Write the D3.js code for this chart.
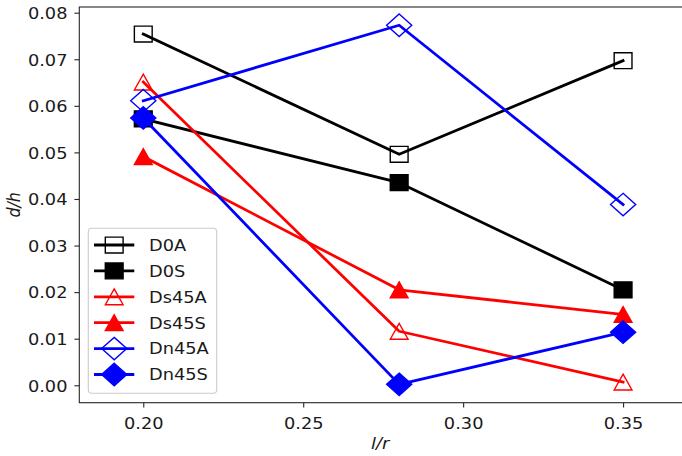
<!DOCTYPE html>
<html>
<head>
<meta charset="utf-8">
<script src="https://cdn.jsdelivr.net/npm/d3@7"></script>
<style>
  body { margin: 0; background: #fff; }
  svg { display: block; font-family: "DejaVu Sans", sans-serif; }
</style>
</head>
<body>
<div id="chart"></div>
<script>
// --- DATA ---
const xValues = [0.20, 0.28, 0.35];
const seriesNames = ["D0A", "D0S", "Ds45A", "Ds45S", "Dn45A", "Dn45S"];
const d0A   = [0.0754, 0.0496, 0.0697];
const d0S   = [0.0572, 0.0435, 0.0205];
const ds45A = [0.0651, 0.0116, 0.0007];
const ds45S = [0.0491, 0.0205, 0.0152];
const dn45A = [0.0611, 0.0773, 0.0388];
const dn45S = [0.0574, 0.0002, 0.0114];
const xTicks = [0.20, 0.25, 0.30, 0.35];
const yTicks = [0.00, 0.01, 0.02, 0.03, 0.04, 0.05, 0.06, 0.07, 0.08];

window.onload = () => {
  const width = 682, height = 456;
  // picture looks like a 640x480 figure squeezed to 682x456
  const sx = 1.0656, sy = 0.95;
  const fs = 16.7;

  const left = 79.3, top = 7, bottom = 402.7;

  const svg = d3.select("#chart").append("svg")
    .attr("width", width).attr("height", height);

  const x = d3.scaleLinear().domain([0.18, 0.37]).range([left, left + 0.19 * 3198.7]);
  const y = d3.scaleLinear().domain([-0.00374, 0.08122]).range([bottom, top]);

  const series = [
    { name: seriesNames[0], values: d0A,   color: "#000000", marker: "square",   filled: false },
    { name: seriesNames[1], values: d0S,   color: "#000000", marker: "square",   filled: true },
    { name: seriesNames[2], values: ds45A, color: "#ff0000", marker: "triangle", filled: false },
    { name: seriesNames[3], values: ds45S, color: "#ff0000", marker: "triangle", filled: true },
    { name: seriesNames[4], values: dn45A, color: "#0000ff", marker: "diamond",  filled: false },
    { name: seriesNames[5], values: dn45S, color: "#0000ff", marker: "diamond",  filled: true }
  ];

  // marker paths, matplotlib style (markersize 12pt), stretched like the picture
  const ms = fs;
  function markerPath(type) {
    let pts;
    if (type === "square") {
      const h = ms / 2;
      pts = [[-h, -h], [h, -h], [h, h], [-h, h]];
    } else if (type === "diamond") {
      const h = ms * Math.SQRT1_2;
      pts = [[0, -h], [h, 0], [0, h], [-h, 0]];
    } else {
      const h = ms / 2;
      pts = [[0, -h], [h, h], [-h, h]];
    }
    return "M" + pts.map(p => (p[0] * sx).toFixed(2) + "," + (p[1] * sy).toFixed(2)).join("L") + "Z";
  }

  // --- FRAME ---
  svg.append("rect")
    .attr("x", left).attr("y", top)
    .attr("width", x.range()[1] - left).attr("height", bottom - top)
    .attr("fill", "none").attr("stroke", "#262626").attr("stroke-width", 1.1);

  // --- AXES ---
  const yAxis = svg.append("g")
    .attr("transform", `translate(${left},0)`)
    .call(d3.axisLeft(y).tickValues(yTicks).tickFormat(d3.format(".2f")).tickSize(4.9).tickSizeOuter(0));
  const xAxis = svg.append("g")
    .attr("transform", `translate(0,${bottom})`)
    .call(d3.axisBottom(x).tickValues(xTicks).tickFormat(d3.format(".2f")).tickSize(4.9).tickSizeOuter(0));

  [xAxis, yAxis].forEach(g => {
    g.select(".domain").remove();
    g.selectAll(".tick line").attr("stroke", "#262626").attr("stroke-width", 1.1);
    g.selectAll(".tick text")
      .attr("fill", "#1a1a1a")
      .attr("font-size", fs + "px")
      .attr("font-family", "DejaVu Sans")
      .attr("dy", null).attr("x", null).attr("y", null);
  });
  yAxis.selectAll(".tick text")
    .attr("text-anchor", "end")
    .attr("transform", `translate(-11.8,5.8) scale(${sx},${sy})`);
  xAxis.selectAll(".tick text")
    .attr("text-anchor", "middle")
    .attr("transform", `translate(0,26) scale(${sx},${sy})`);

  // axis labels
  svg.append("text")
    .attr("transform", `translate(${(left + 681) / 2},449) scale(${sx},${sy})`)
    .attr("text-anchor", "middle")
    .attr("font-size", fs + "px").attr("font-style", "italic")
    .attr("fill", "#1a1a1a")
    .text("l/r");

  svg.append("text")
    .attr("transform", `translate(19.5,${(top + bottom) / 2}) rotate(-90) scale(${sy},${sx})`)
    .attr("text-anchor", "middle")
    .attr("font-size", fs + "px").attr("font-style", "italic")
    .attr("fill", "#1a1a1a")
    .text("d/h");

  // --- LINES + MARKERS (in plot order) ---
  const line = d3.line().x((d, i) => x(xValues[i])).y(d => y(d));

  series.forEach(s => {
    svg.append("path")
      .datum(s.values)
      .attr("d", line)
      .attr("fill", "none")
      .attr("stroke", s.color)
      .attr("stroke-width", 2.78)
      .attr("stroke-linejoin", "round")
      .attr("stroke-linecap", "square");

    svg.append("g").selectAll("path")
      .data(s.values)
      .enter().append("path")
      .attr("transform", (d, i) => `translate(${x(xValues[i])},${y(d)})`)
      .attr("d", markerPath(s.marker))
      .attr("fill", s.filled ? s.color : "none")
      .attr("stroke", s.color)
      .attr("stroke-width", 1.39)
      .attr("stroke-linejoin", "miter");
  });

  // --- LEGEND ---
  const legend = svg.append("g");
  legend.append("rect")
    .attr("x", 88.3).attr("y", 228.3)
    .attr("width", 128.4).attr("height", 165)
    .attr("rx", 3.5)
    .attr("fill", "#fff").attr("fill-opacity", 0.8)
    .attr("stroke", "#cccccc").attr("stroke-width", 1.1);

  series.forEach((s, i) => {
    const cy = 245 + i * 25.9;
    const row = legend.append("g");
    row.append("line")
      .attr("x1", 94).attr("x2", 134.3).attr("y1", cy).attr("y2", cy)
      .attr("stroke", s.color).attr("stroke-width", 2.78);
    row.append("path")
      .attr("transform", `translate(114.2,${cy})`)
      .attr("d", markerPath(s.marker))
      .attr("fill", s.filled ? s.color : "none")
      .attr("stroke", s.color)
      .attr("stroke-width", 1.39);
    row.append("text")
      .attr("transform", `translate(149,${cy + 5.8}) scale(${sx},${sy})`)
      .attr("font-size", fs + "px")
      .attr("fill", "#1a1a1a")
      .text(s.name);
  });
};
</script>
</body>
</html>
